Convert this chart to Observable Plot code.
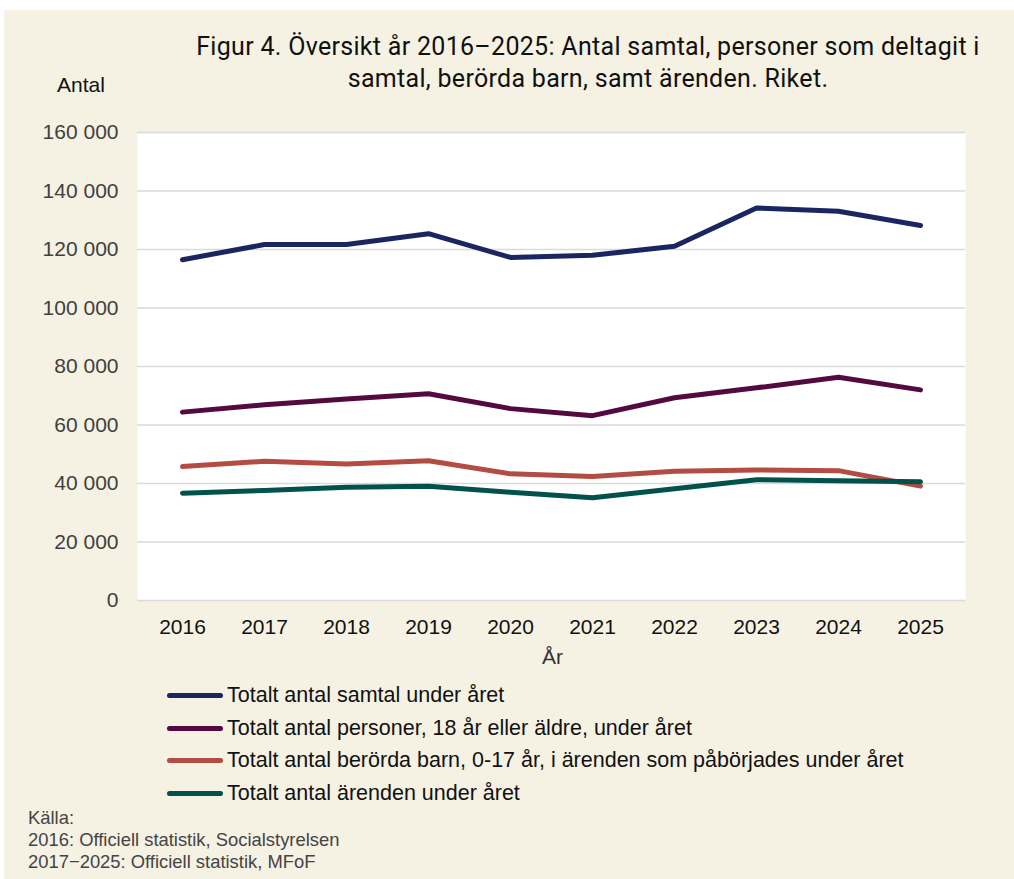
<!DOCTYPE html>
<html>
<head>
<meta charset="utf-8">
<script src="https://cdn.jsdelivr.net/npm/d3@7"></script>
<script src="https://cdn.jsdelivr.net/npm/@observablehq/plot@0.6"></script>
<style>
  html, body { margin: 0; padding: 0; background: #ffffff; }
  #page { position: relative; width: 1014px; height: 879px; background: #ffffff; overflow: hidden; }
  #panel { position: absolute; left: 4px; top: 10px; width: 1010px; height: 869px; background: #f5f1e3; }
  .abs { position: absolute; white-space: nowrap; }
  #title { left: 138px; width: 900px; top: 31px; text-align: center; font-family: Roboto, sans-serif; font-size: 25px; line-height: 32px; color: #111; letter-spacing: 0.3px; }
  #ylab { left: 57px; top: 73px; font-family: "Liberation Sans", Arial, sans-serif; font-size: 21px; color: #111; }
  #xlab { left: 542px; top: 645px; font-family: "Liberation Sans", Arial, sans-serif; font-size: 21px; color: #333; }
  #chart { position: absolute; left: 0; top: 100px; }
  .leg { position: absolute; left: 167px; font-family: "Liberation Sans", Arial, sans-serif; font-size: 21.5px; color: #111; height: 26px; line-height: 26px; }
  .leg span.sw { display: inline-block; width: 56px; height: 5px; border-radius: 3px; vertical-align: middle; margin-right: 4px; position: relative; top: -1px; }
  #src { left: 28px; top: 807px; font-family: "Liberation Sans", Arial, sans-serif; font-size: 18.4px; line-height: 22px; color: #444; }
</style>
</head>
<body>
<div id="page">
  <div id="panel"></div>
  <div id="title" class="abs">Figur 4. Översikt år 2016–2025: Antal samtal, personer som deltagit i<br>samtal, berörda barn, samt ärenden. Riket.</div>
  <div id="ylab" class="abs">Antal</div>
  <div id="chart"></div>
  <div id="xlab" class="abs">År</div>
  <div id="legend"></div>
  <div id="src" class="abs">Källa:<br>2016: Officiell statistik, Socialstyrelsen<br>2017−2025: Officiell statistik, MFoF</div>
</div>
<script>
const years = [2016, 2017, 2018, 2019, 2020, 2021, 2022, 2023, 2024, 2025];
const samtal   = [116500, 121700, 121700, 125400, 117300, 118000, 121100, 134200, 133100, 128200];
const personer = [64400, 66900, 68900, 70700, 65600, 63200, 69300, 72700, 76300, 72000];
const barn     = [45800, 47600, 46700, 47800, 43300, 42400, 44200, 44600, 44400, 39100];
const arenden  = [36700, 37600, 38700, 39100, 37000, 35100, 38200, 41300, 40900, 40600];
const yTicks = [0, 20000, 40000, 60000, 80000, 100000, 120000, 140000, 160000];

const seriesNames = [
  "Totalt antal samtal under året",
  "Totalt antal personer, 18 år eller äldre, under året",
  "Totalt antal berörda barn, 0-17 år, i ärenden som påbörjades under året",
  "Totalt antal ärenden under året"
];
const seriesColors = ["#1b2660", "#520a40", "#b34c43", "#00524b"];
const seriesValues = [samtal, personer, barn, arenden];

const rows = [];
seriesValues.forEach((vals, i) => vals.forEach((v, j) => rows.push({serie: seriesNames[i], year: years[j], value: v})));

const fmt = d => d3.format(",")(d).replace(/,/g, " ");

const plot = Plot.plot({
  width: 1014,
  height: 560,
  marginTop: 32,
  marginBottom: 60,
  marginLeft: 137,
  marginRight: 49,
  style: { background: "transparent", fontFamily: "Liberation Sans, Arial, sans-serif", fontSize: "21px" },
  x: { type: "point", domain: years, padding: 0.5 },
  y: { domain: [0, 160000] },
  color: { domain: seriesNames, range: seriesColors },
  marks: [
    Plot.frame({ fill: "white", stroke: null }),
    Plot.gridY(yTicks, { stroke: "#d9d9de", strokeOpacity: 1, strokeWidth: 1.5 }),
    Plot.axisY(yTicks, { tickFormat: fmt, tickSize: 0, tickPadding: 19, label: null, fill: "#404040" }),
    Plot.axisX(years, { tickFormat: d => String(d), tickSize: 0, tickPadding: 19, label: null, fill: "#111" }),
    Plot.line(rows, { x: "year", y: "value", z: "serie", stroke: "serie", strokeWidth: 5, strokeLinecap: "round", strokeLinejoin: "round" })
  ]
});
document.getElementById("chart").appendChild(plot);

const legend = document.getElementById("legend");
const legendTops = [682, 715, 747, 780];
seriesNames.forEach((name, i) => {
  const d = document.createElement("div");
  d.className = "leg";
  d.style.top = legendTops[i] + "px";
  d.innerHTML = `<span class="sw" style="background:${seriesColors[i]}"></span>`;
  d.appendChild(document.createTextNode(name));
  legend.appendChild(d);
});
</script>
</body>
</html>
